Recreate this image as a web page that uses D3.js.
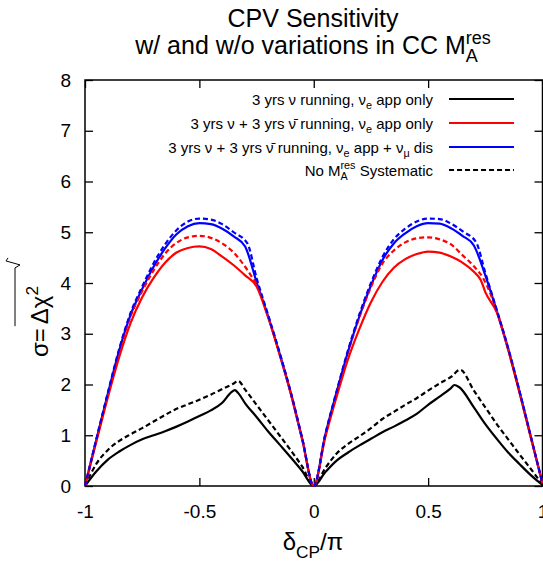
<!DOCTYPE html>
<html><head><meta charset="utf-8">
<script src="https://cdn.jsdelivr.net/npm/d3@7"></script>
<style>
body{margin:0;background:#fff}
svg{display:block}
text{font-family:"Liberation Sans",Arial,Helvetica,sans-serif;fill:#000}
</style>
</head><body>
<svg id="c" width="543" height="561"></svg>
<script>
// ---------------- data ----------------
const xTicks = [-1, -0.5, 0, 0.5, 1];
const xTickLabels = ["-1", "-0.5", "0", "0.5", "1"];
const yTicks = [0, 1, 2, 3, 4, 5, 6, 7, 8];

const blackSolid = [[-1,0],[-0.95,0.29],[-0.9,0.52],[-0.85,0.68],[-0.8,0.81],[-0.75,0.92],[-0.7,1.0],[-0.65,1.08],[-0.6,1.17],[-0.55,1.27],[-0.5,1.38],[-0.45,1.49],[-0.4,1.64],[-0.36,1.85],[-0.345,1.89],[-0.33,1.83],[-0.3,1.63],[-0.25,1.36],[-0.2,1.08],[-0.15,0.82],[-0.1,0.56],[-0.05,0.29],[0,0],
  [0.05,0.27],[0.1,0.5],[0.15,0.66],[0.2,0.8],[0.25,0.93],[0.3,1.06],[0.35,1.17],[0.4,1.29],[0.45,1.42],[0.5,1.6],[0.55,1.76],[0.6,1.93],[0.615,1.99],[0.635,1.95],[0.7,1.55],[0.75,1.22],[0.8,0.93],[0.85,0.66],[0.9,0.43],[0.95,0.21],[1,0.02]];

const blackDashed = [[-1,0],[-0.95,0.44],[-0.9,0.71],[-0.85,0.89],[-0.8,1.02],[-0.75,1.14],[-0.7,1.27],[-0.65,1.4],[-0.6,1.52],[-0.55,1.61],[-0.5,1.7],[-0.45,1.8],[-0.4,1.91],[-0.35,2.02],[-0.33,2.07],[-0.3,1.9],[-0.25,1.6],[-0.2,1.3],[-0.15,1.0],[-0.1,0.7],[-0.05,0.38],[0,0],
  [0.05,0.35],[0.1,0.64],[0.15,0.83],[0.2,0.98],[0.25,1.14],[0.3,1.32],[0.35,1.46],[0.4,1.6],[0.45,1.73],[0.5,1.88],[0.55,2.02],[0.6,2.15],[0.64,2.29],[0.7,1.88],[0.75,1.55],[0.8,1.22],[0.85,0.92],[0.9,0.62],[0.95,0.33],[1,0.03]];

const redSolid = [[-1,0],[-0.95,0.88],[-0.9,1.75],[-0.85,2.55],[-0.8,3.22],[-0.75,3.72],[-0.7,4.1],[-0.65,4.4],[-0.6,4.6],[-0.55,4.69],[-0.5,4.72],[-0.45,4.67],[-0.4,4.52],[-0.35,4.35],[-0.3,4.15],[-0.25,3.93],[-0.2,3.33],[-0.15,2.6],[-0.1,1.81],[-0.05,0.9],[0,0],
  [0.05,0.95],[0.1,1.76],[0.15,2.5],[0.2,3.1],[0.25,3.62],[0.3,4.02],[0.35,4.3],[0.4,4.47],[0.45,4.57],[0.5,4.62],[0.55,4.6],[0.6,4.52],[0.65,4.4],[0.7,4.22],[0.73,4.06],[0.75,3.82],[0.8,3.42],[0.85,2.68],[0.9,1.83],[0.95,0.93],[1,0.05]];

const redDashed = [[-1,0],[-0.95,0.92],[-0.9,1.82],[-0.85,2.66],[-0.8,3.35],[-0.75,3.84],[-0.7,4.25],[-0.65,4.58],[-0.6,4.79],[-0.55,4.9],[-0.5,4.93],[-0.45,4.89],[-0.4,4.78],[-0.35,4.6],[-0.3,4.32],[-0.27,4.12],[-0.25,3.98],[-0.2,3.35],[-0.15,2.62],[-0.1,1.83],[-0.05,0.92],[0,0],
  [0.05,0.99],[0.1,1.84],[0.15,2.64],[0.2,3.33],[0.25,3.92],[0.3,4.38],[0.35,4.64],[0.4,4.8],[0.45,4.88],[0.5,4.9],[0.55,4.86],[0.6,4.76],[0.65,4.55],[0.7,4.33],[0.74,4.1],[0.8,3.45],[0.85,2.7],[0.9,1.85],[0.95,0.95],[1,0.05]];

const blueSolid = [[-1,0],[-0.95,0.92],[-0.9,1.82],[-0.85,2.68],[-0.8,3.38],[-0.75,3.88],[-0.7,4.32],[-0.65,4.68],[-0.6,4.96],[-0.55,5.12],[-0.5,5.18],[-0.45,5.16],[-0.4,5.07],[-0.35,4.92],[-0.3,4.72],[-0.25,4.02],[-0.2,3.35],[-0.15,2.62],[-0.1,1.83],[-0.05,0.92],[0,0],
  [0.05,1.0],[0.1,1.85],[0.15,2.65],[0.2,3.35],[0.25,3.95],[0.3,4.45],[0.35,4.78],[0.4,4.98],[0.45,5.12],[0.5,5.18],[0.55,5.17],[0.6,5.08],[0.65,4.93],[0.7,4.74],[0.75,4.15],[0.8,3.45],[0.85,2.7],[0.9,1.85],[0.95,0.95],[1,0.05]];

const blueDashed = [[-1,0],[-0.95,0.93],[-0.9,1.84],[-0.85,2.71],[-0.8,3.42],[-0.75,3.93],[-0.7,4.39],[-0.65,4.76],[-0.6,5.04],[-0.55,5.21],[-0.5,5.27],[-0.45,5.25],[-0.4,5.16],[-0.35,5.0],[-0.29,4.78],[-0.25,4.1],[-0.2,3.38],[-0.15,2.64],[-0.1,1.84],[-0.05,0.93],[0,0],
  [0.05,1.01],[0.1,1.87],[0.15,2.68],[0.2,3.39],[0.25,4.0],[0.3,4.51],[0.35,4.86],[0.4,5.07],[0.45,5.21],[0.5,5.27],[0.55,5.26],[0.6,5.17],[0.65,5.02],[0.71,4.8],[0.75,4.2],[0.8,3.47],[0.85,2.72],[0.9,1.86],[0.95,0.96],[1,0.05]];

const NU = "\u03BD", NUBAR = "\u03BD\u0304";
const legendLabels = [
  [{t:"3 yrs "+NU+" running, "+NU},{t:"e",k:"sub"},{t:" app only"}],
  [{t:"3 yrs "+NU+" + 3 yrs "+NUBAR+" running, "+NU},{t:"e",k:"sub"},{t:" app only"}],
  [{t:"3 yrs "+NU+" + 3 yrs "+NUBAR+" running, "+NU},{t:"e",k:"sub"},{t:" app + "+NU},{t:"\u03BC",k:"sub"},{t:" dis"}],
  [{t:"No M"},{t:"A",k:"sub"},{t:"res",k:"sup",stack:true},{t:" Systematic"}]
];
const legendColors = ["#000000", "#ff0000", "#0000ff", "#000000"];
const legendDashed = [false, false, false, true];

// series drawn in order
const series = [
  {d: blackSolid, c: "#000000", dash: false},
  {d: blackDashed, c: "#000000", dash: true},
  {d: blueSolid, c: "#0000ff", dash: false},
  {d: redSolid, c: "#ff0000", dash: false},
  {d: redDashed, c: "#ff0000", dash: true},
  {d: blueDashed, c: "#0000ff", dash: true}
];

// ---------------- drawing ----------------
const svg = d3.select("#c");
const L = 85, R = 542.5, T = 80, B = 486;
const x = d3.scaleLinear([-1, 1], [L, R]);
const y = d3.scaleLinear([0, 8], [B, T]);
const FONT = '"Liberation Sans",Arial,Helvetica,sans-serif';
const DASH = "5,3";

function rich(textSel, parts, fs) {
  let shift = 0, prev = null;
  parts.forEach(p => {
    let target = 0, size = fs;
    if (p.k === "sub") { target = fs * 0.32; size = fs * 0.72; }
    if (p.k === "sup") { target = -fs * 0.42; size = fs * 0.72; }
    const ts = textSel.append("tspan").attr("font-size", size).text(p.t);
    ts.attr("dy", target - shift);
    if (p.stack && prev) ts.attr("dx", -prev.node().getComputedTextLength());
    shift = target;
    prev = ts;
  });
}

// axes
const axB = svg.append("g").attr("transform", `translate(0,${B})`)
  .call(d3.axisBottom(x).tickValues(xTicks).tickFormat((d, i) => xTickLabels[i])
    .tickSizeInner(-8).tickSizeOuter(0).tickPadding(19));
const axT = svg.append("g").attr("transform", `translate(0,${T})`)
  .call(d3.axisTop(x).tickValues(xTicks).tickFormat("").tickSizeInner(-8).tickSizeOuter(0));
const axL = svg.append("g").attr("transform", `translate(${L},0)`)
  .call(d3.axisLeft(y).tickValues(yTicks).tickFormat(d3.format("d"))
    .tickSizeInner(-8).tickSizeOuter(0).tickPadding(14));
const axR = svg.append("g").attr("transform", `translate(${R},0)`)
  .call(d3.axisRight(y).tickValues(yTicks).tickFormat("").tickSizeInner(-8).tickSizeOuter(0));
[axB, axT, axL, axR].forEach(a => {
  a.select(".domain").remove();
  a.selectAll(".tick line").attr("stroke", "#000").attr("stroke-width", 1.3);
  a.selectAll("text").attr("font-family", FONT).attr("font-size", 19).attr("fill", "#000");
});

// frame
svg.append("rect").attr("x", L).attr("y", T).attr("width", R - L).attr("height", B - T)
  .attr("fill", "none").attr("stroke", "#000").attr("stroke-width", 1.5);

// curves
const line = d3.line().x(d => x(d[0])).y(d => y(d[1])).curve(d3.curveMonotoneX);
series.forEach(s => {
  svg.append("path").datum(s.d).attr("d", line)
    .attr("fill", "none").attr("stroke", s.c).attr("stroke-width", 2.2)
    .attr("stroke-linejoin", "round")
    .attr("stroke-dasharray", s.dash ? DASH : null);
});

// legend
const legY = [99, 123, 147, 170];
legendLabels.forEach((parts, i) => {
  const t = svg.append("text").attr("x", 433).attr("y", legY[i] + 5.5)
    .attr("text-anchor", "end").attr("font-size", 15).attr("font-family", FONT);
  rich(t, parts, 15);
  svg.append("line").attr("x1", 449).attr("x2", 514).attr("y1", legY[i]).attr("y2", legY[i])
    .attr("stroke", legendColors[i]).attr("stroke-width", 2.2)
    .attr("stroke-dasharray", legendDashed[i] ? DASH : null);
});

// title
svg.append("text").attr("x", 313).attr("y", 27).attr("text-anchor", "middle")
  .attr("font-size", 25).attr("font-family", FONT).text("CPV Sensitivity");
const t2 = svg.append("text").attr("x", 313).attr("y", 54).attr("text-anchor", "middle")
  .attr("font-size", 25).attr("font-family", FONT);
rich(t2, [{t:"w/ and w/o variations in CC M"},{t:"A",k:"sub"},{t:"res",k:"sup",stack:true}], 25);

// x label
const xl = svg.append("text").attr("x", 313).attr("y", 550).attr("text-anchor", "middle")
  .attr("font-size", 24).attr("font-family", FONT);
rich(xl, [{t:"\u03B4"},{t:"CP",k:"sub"},{t:"/\u03C0"}], 24);

// y label: sigma = sqrt(Delta chi^2)
const gy = svg.append("g").attr("transform", "translate(48,357) rotate(-90)");
const s1 = gy.append("text").attr("x", 0).attr("y", 0).attr("font-size", 24).attr("font-family", FONT).text("\u03C3= ");
const w1 = s1.node().getComputedTextLength();
const rad = gy.append("text").attr("x", w1 + 4).attr("y", 0).attr("font-size", 24).attr("font-family", FONT);
rich(rad, [{t:"\u0394\u03C7"},{t:"2",k:"sup"}], 24);
const w2 = rad.node().getComputedTextLength();
const rx0 = w1 + 2, rx1 = w1 + 4 + w2 + 18;
gy.append("path")
  .attr("d", `M${rx0},-33 L${rx1},-33 M${rx1},-33 L${rx1+3},-28 L${rx1+7},-42 L${rx1+10},-40`)
  .attr("fill", "none").attr("stroke", "#000").attr("stroke-width", 1);
</script>
</body></html>
